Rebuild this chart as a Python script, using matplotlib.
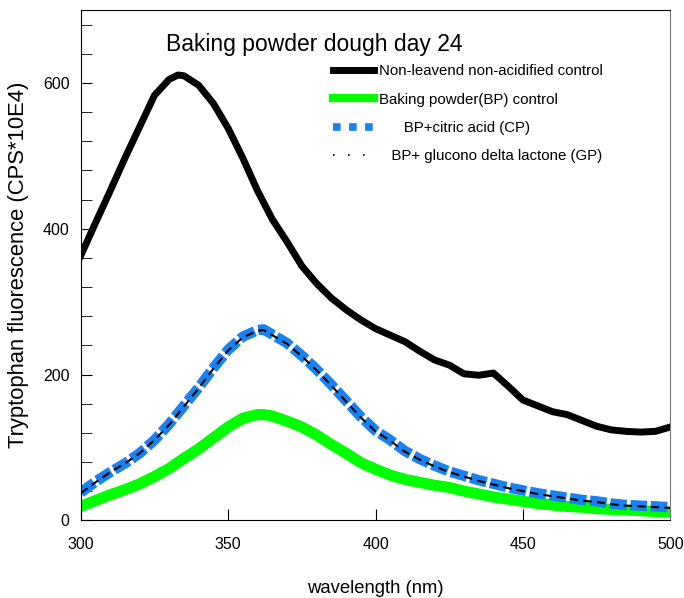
import numpy as np
import matplotlib.pyplot as plt
from matplotlib.ticker import MultipleLocator
from matplotlib.lines import Line2D

plt.rcParams['font.family'] = ['Liberation Sans', 'DejaVu Sans']

# wavelength (nm) and readings
wl = [300, 305, 310, 315, 320, 325, 330, 333, 335, 340, 345, 350, 355, 360, 365, 370,
      375, 380, 385, 390, 395, 400, 405, 410, 415, 420, 425, 430, 435, 440, 445, 450,
      455, 460, 465, 470, 475, 480, 485, 490, 495, 500]
control = [363, 408, 452, 497, 540, 583, 605, 611, 610, 597, 572, 538, 497, 452, 413, 382,
           349, 325, 305, 289, 275, 263, 254, 245, 232, 220, 213, 201, 199, 202, 184, 165,
           157, 149, 145, 137, 129, 124, 122, 121, 122, 128]

wl2 = [300, 305, 310, 315, 320, 325, 330, 335, 340, 345, 350, 355, 360, 362, 365, 370,
       375, 380, 385, 390, 395, 400, 405, 410, 415, 420, 425, 430, 435, 440, 445, 450,
       455, 460, 465, 470, 475, 480, 485, 490, 495, 500]
cp = [38, 53, 66, 78, 92, 110, 132, 157, 182, 209, 234, 252, 261, 262, 255, 243,
      226, 207, 186, 164, 142, 123, 110, 95, 84, 75, 67, 61, 55, 50, 45, 41,
      37, 34, 31, 28, 26, 23, 21, 20, 19, 18]
gp = [37, 52, 66, 78, 92, 110, 131, 156, 181, 208, 233, 251, 260, 261, 254, 242,
      225, 206, 185, 163, 141, 122, 109, 94, 83, 74, 66, 60, 54, 49, 44, 40,
      36, 33, 30, 27, 25, 22, 20, 19, 18, 17]
bp = [19, 27, 35, 42, 50, 60, 71, 85, 98, 113, 128, 140, 145, 145, 143, 136,
      128, 117, 104, 92, 79, 70, 62, 56, 52, 48, 45, 40, 36, 32, 29, 26,
      23, 21, 19, 18, 16, 15, 14, 13, 12, 11]

labels = ['Non-leavend non-acidified control', 'Baking powder(BP) control',
          '      BP+citric acid (CP)', '   BP+ glucono delta lactone (GP)']

fig = plt.figure(figsize=(6.84, 5.98), dpi=100)
ax = fig.add_axes([0.118, 0.130, 0.862, 0.853])

ax.plot(wl, control, color='black', lw=5, solid_joinstyle='round')
ax.plot(wl2, bp, color='#00ff00', lw=8, solid_joinstyle='round')
ax.plot(wl2, cp, color='#1a82f0', lw=7.5, linestyle=(0, (1.6, 0.35)))
ax.plot(wl2, gp, color='black', lw=1.5, linestyle=(0, (4, 2.5)))

handles = [Line2D([], [], color='black', lw=5),
           Line2D([], [], color='#00ff00', lw=6),
           Line2D([], [], color='#1a82f0', lw=5.5, linestyle=(0, (1, 1.1))),
           Line2D([], [], color='black', lw=1.2, linestyle=(0, (1, 8)))]

ax.set_xlim(300, 500)
ax.set_ylim(0, 700)
ax.set_xticks([300, 350, 400, 450, 500])
ax.set_yticks([0, 200, 400, 600])
ax.yaxis.set_minor_locator(MultipleLocator(40))
ax.tick_params(direction='in', length=8, labelsize=11.5, pad=8)
ax.tick_params(axis='x', pad=12)
ax.tick_params(which='minor', direction='in', length=8)
ax.spines['right'].set_color('#777777')

ax.text(0.145, 0.92, 'Baking powder dough day 24', transform=ax.transAxes, fontsize=16.5)
ax.set_xlabel('wavelength (nm)', fontsize=13.3, labelpad=20)
ax.set_ylabel('Tryptophan fluorescence (CPS*10E4)', fontsize=15.8, labelpad=10)

ax.legend(handles, labels, loc='upper left', bbox_to_anchor=(0.405, 0.92), frameon=False,
          fontsize=10.8, handlelength=2.7, handletextpad=0.35, labelspacing=0.95)

fig.savefig('out.png')
